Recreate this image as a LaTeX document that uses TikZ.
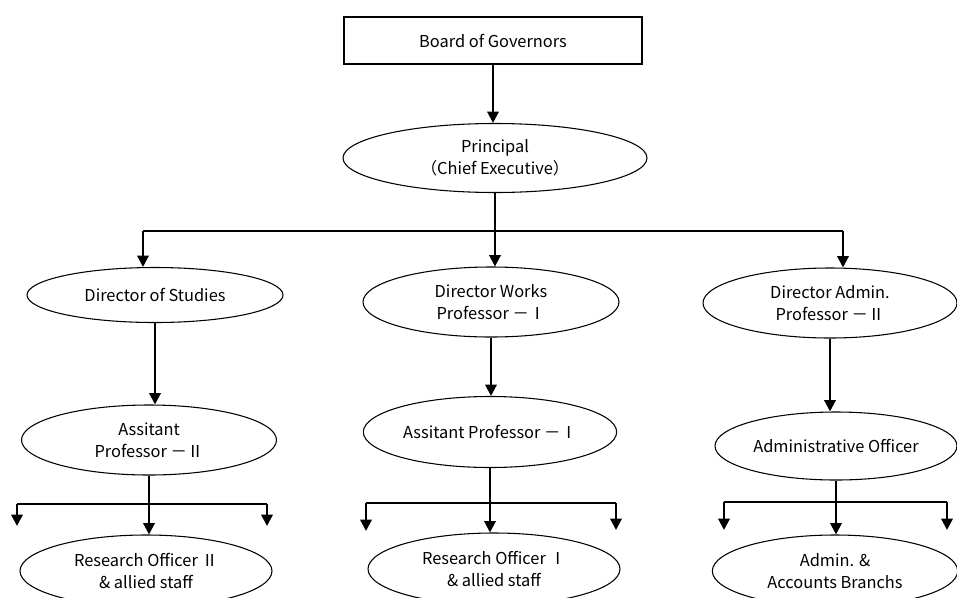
\documentclass[tikz,border=0pt]{standalone}
\usepackage{fontspec}
\setmainfont{Noto Sans CJK JP}
\usetikzlibrary{shapes.geometric,arrows.meta}

\tikzset{
  chart/.style={draw, line width=0.8pt, inner sep=0pt, align=center,
    font=\fontsize{12.3}{16.5}\selectfont},
  post/.style={chart, ellipse},
  boardbox/.style={chart, rectangle},
  link/.style={line width=1.7pt, -{Triangle[length=8.5pt,width=8.5pt]}},
  fork/.style={line width=0.9pt},
}

\begin{document}
\begin{tikzpicture}[x=0.75pt,y=0.75pt,yscale=-1]
\useasboundingbox (0,0) rectangle (957,597);

% Boxes
\node [boardbox, minimum width=223.5pt, minimum height=35.25pt] (board) at (493,40.5) {Board of Governors};
\node [post, minimum width=228pt, minimum height=51.75pt] (principal) at (495,158) {Principal\\（Chief Executive）};

\node [post, minimum width=192pt, minimum height=41.25pt] (dstud) at (155,295) {Director of Studies};
\node [post, minimum width=192pt, minimum height=52.5pt] (dworks) at (491,302) {Director Works\\Professor －Ⅰ};
\node [post, minimum width=190.5pt, minimum height=52.5pt] (dadmin) at (830,303) {Director Admin.\\Professor －Ⅱ};

\node [post, minimum width=191.25pt, minimum height=52.5pt] (ap2) at (149,440) {Assitant\\Professor －Ⅱ};
\node [post, minimum width=190pt, minimum height=53.25pt] (ap1) at (490,432) {Assitant Professor －Ⅰ};
\node [post, minimum width=181.5pt, minimum height=51pt] (aoff) at (836,446) {Administrative Officer};

\node [post, minimum width=189pt, minimum height=54pt] (ro2) at (146,571) {Research Officer Ⅱ\\\& allied staff};
\node [post, minimum width=189pt, minimum height=54pt] (ro1) at (494,569) {Research Officer Ⅰ\\\& allied staff};
\node [post, minimum width=184pt, minimum height=54pt] (accts) at (835,571) {Admin. \&\\Accounts Branchs};

% Fork ends
\coordinate (jl) at (143,231);
\coordinate (jr) at (843,231);
\coordinate (al) at (17,504);
\coordinate (ar) at (267,504);
\coordinate (bl) at (366,503);
\coordinate (br) at (616,503);
\coordinate (cl) at (724,502);
\coordinate (cr) at (947,502);

%Straight Lines
\draw [link] (board.south) -- (board.south |- principal.north);
\draw [link] (principal.south) -- (principal.south |- dworks.north);
\draw [fork] (jl) -- (jr);
\draw [link] (jl) -- (jl |- dstud.north);
\draw [link] (jr) -- (jr |- dadmin.north);

\draw [link] (dstud.south) -- (dstud.south |- ap2.north);
\draw [link] (dworks.south) -- (dworks.south |- ap1.north);
\draw [link] (dadmin.south) -- (dadmin.south |- aoff.north);

\draw [link] (ap2.south) -- (ap2.south |- ro2.north);
\draw [fork] (al) -- (ar);
\draw [link] (al) -- ++(0,22);
\draw [link] (ar) -- ++(0,22);

\draw [link] (ap1.south) -- (ap1.south |- ro1.north);
\draw [fork] (bl) -- (br);
\draw [link] (bl) -- ++(0,28);
\draw [link] (br) -- ++(0,27);

\draw [link] (aoff.south) -- (aoff.south |- accts.north);
\draw [fork] (cl) -- (cr);
\draw [link] (cl) -- ++(0,28);
\draw [link] (cr) -- ++(0,28);
\end{tikzpicture}
\end{document}
